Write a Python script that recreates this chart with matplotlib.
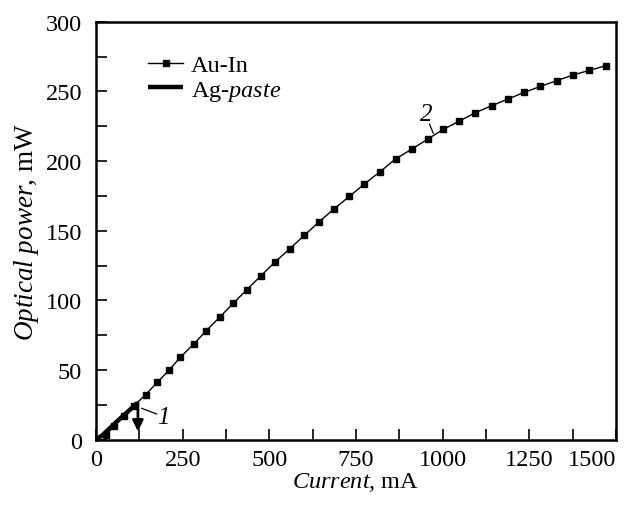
import matplotlib
matplotlib.use("Agg")
import matplotlib.pyplot as plt
import numpy as np

plt.rcParams['font.family'] = ['Liberation Serif', 'DejaVu Serif']
plt.rcParams['mathtext.fontset'] = 'custom'
plt.rcParams['mathtext.rm'] = 'Liberation Serif'
plt.rcParams['mathtext.it'] = 'Liberation Serif:italic'

# Au-In mounted laser (curve 2)
auin_current = [0, 29, 52, 80, 110, 143, 177, 211, 243, 282, 318, 358, 396,
                435, 476, 517, 559, 601, 644, 687, 731, 774, 819, 864, 911,
                957, 1002, 1048, 1094, 1141, 1188, 1235, 1282, 1329, 1376,
                1423, 1470]
auin_power = [0, 3.4, 9.6, 17.0, 24.5, 32.3, 41.2, 50.0, 59.1, 68.7, 78.2,
              88.3, 97.9, 107.7, 117.7, 127.7, 137.1, 146.7, 156.5, 165.8,
              174.7, 183.5, 192.3, 201.5, 208.6, 215.8, 222.8, 228.7, 234.7,
              239.7, 244.5, 249.3, 253.6, 257.7, 261.8, 265.1, 268.4]

# Ag-paste mounted laser (curve 1), failed at ~120 mA
ag_current = [0, 20, 60, 120]
ag_power = [0, 3.5, 13.0, 26.5]

fig = plt.figure(figsize=(6.42, 5.06), dpi=100)
ax = fig.add_axes([0.1495, 0.129, 0.81, 0.826])

ax.plot(auin_current, auin_power, 'k-', lw=1.0, marker='s', ms=3.8,
        label='Au-In', zorder=2)
ax.plot(ag_current, ag_power, 'k-', lw=3.2, label='Ag-$\\mathit{paste}$',
        zorder=3, solid_capstyle='butt')

# failure arrow
ax.annotate('', xy=(121, 6.0), xytext=(121, 26.5),
            arrowprops=dict(arrowstyle='-|>', color='k', lw=2.0,
                            mutation_scale=16, shrinkA=0, shrinkB=0))

# curve labels
ax.plot([132, 175], [22.5, 18.5], 'k-', lw=0.9)
ax.text(176, 16, '1', fontsize=18, style='italic', va='center', ha='left')
ax.plot([962, 973], [226.5, 220], 'k-', lw=0.9)
ax.text(954, 234, '2', fontsize=18, style='italic', va='center', ha='center')

ax.set_xlim(0, 1500)
ax.set_ylim(0, 300)
ax.set_xticks(np.arange(0, 1501, 250))
ax.set_xticks(np.arange(0, 1501, 125), minor=True)
ax.set_yticks(np.arange(0, 301, 50))
ax.set_yticks(np.arange(0, 301, 25), minor=True)
ax.tick_params(which='both', direction='in', length=8, width=1.2,
               labelsize=17.5, top=False, right=False)
ax.tick_params(axis='x', pad=7)
ax.tick_params(axis='y', pad=10)
ax.get_xticklabels()[-1].set_ha('right')
for s in ax.spines.values():
    s.set_linewidth(1.8)

ax.set_xlabel('$\\mathit{Current}$, mA', fontsize=17.5, labelpad=0)
ax.set_ylabel('$\\mathit{Optical\\ power}$, mW', fontsize=19.5, labelpad=3)

ax.legend(loc='upper left', bbox_to_anchor=(0.1, 0.922), frameon=False,
          fontsize=17.5, handlelength=1.45, handletextpad=0.3, labelspacing=0.1,
          borderaxespad=0, borderpad=0)

fig.savefig('out.png', dpi=100)
